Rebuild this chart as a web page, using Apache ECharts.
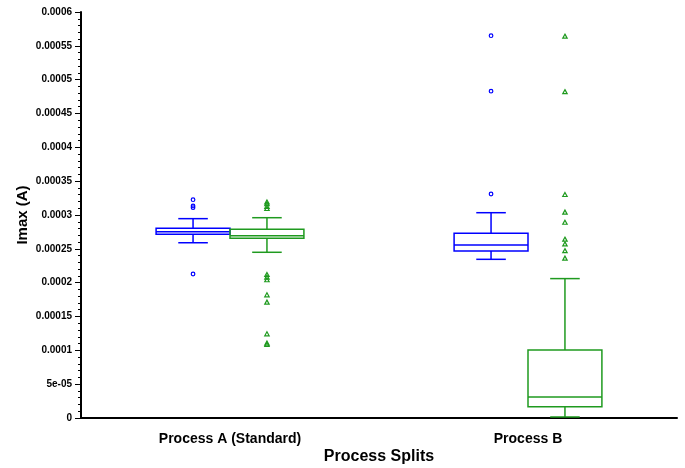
<!DOCTYPE html>
<html>
<head>
<meta charset="utf-8">
<script src="https://cdn.jsdelivr.net/npm/echarts@6/dist/echarts.min.js"></script>
<style>html,body{margin:0;padding:0;background:#fff;}#c{width:685px;height:468px;}</style>
</head>
<body>
<div id="c"></div>
<script>
// ---- data ----
const categories = ['Process A (Standard)', 'Process B'];
const yTickLabels = ['0', '5e-05', '0.0001', '0.00015', '0.0002', '0.00025', '0.0003',
                     '0.00035', '0.0004', '0.00045', '0.0005', '0.00055', '0.0006'];
// [min, Q1, median, Q3, max] per category
const blueStats = [
  [0.000259, 0.0002715, 0.0002754, 0.0002803, 0.0002946],
  [0.0002345, 0.0002468, 0.0002557, 0.000273, 0.0003034]
];
const greenStats = [
  [0.0002449, 0.0002656, 0.0002694, 0.0002788, 0.000296],
  [0.0000015, 0.0000167, 0.000031, 0.0001005, 0.000206]
];
const blueOutliersA = [0.0003226, 0.0003133, 0.0003108, 0.0002128];
const blueOutliersB = [0.000565, 0.000483, 0.000331];
const greenOutliersA = [0.000319, 0.0003163, 0.0003123, 0.0003093, 0.0002118, 0.000208,
                        0.000204, 0.0001818, 0.000171, 0.0001241, 0.0001104, 0.0001083];
const greenOutliersB = [0.000564, 0.000482, 0.00033, 0.000304, 0.000289, 0.000264,
                        0.000257, 0.000247, 0.000236];

const BLUE = '#0000ff';
const GREEN = '#1f9a1f';
const BOX_FRAC = 0.248;

function boxData(stats) {
  return stats.map((s, i) => [i].concat(s));
}
function outlierData(a, b) {
  return a.map(v => [0, v]).concat(b.map(v => [1, v]));
}

function makeBoxRender(color, side) {
  return function (params, api) {
    const band = api.size([1, 0])[0];
    const boxW = band * BOX_FRAC;
    const cat = api.value(0);
    const pMin = api.coord([cat, api.value(1)]);
    const pQ1 = api.coord([cat, api.value(2)]);
    const pMed = api.coord([cat, api.value(3)]);
    const pQ3 = api.coord([cat, api.value(4)]);
    const pMax = api.coord([cat, api.value(5)]);
    const cx = pMin[0] + side * boxW / 2;
    const x0 = cx - boxW / 2, x1 = cx + boxW / 2;
    const cap = boxW * 0.2;
    const st = { stroke: color, lineWidth: 1.5, fill: null };
    return {
      type: 'group',
      children: [
        { type: 'rect', shape: { x: x0, y: pQ3[1], width: boxW, height: pQ1[1] - pQ3[1] }, style: Object.assign({}, st, {fill: 'rgba(0,0,0,0)'}) },
        { type: 'line', shape: { x1: x0, y1: pMed[1], x2: x1, y2: pMed[1] }, style: st },
        { type: 'line', shape: { x1: cx, y1: pQ3[1], x2: cx, y2: pMax[1] }, style: st },
        { type: 'line', shape: { x1: cx, y1: pQ1[1], x2: cx, y2: pMin[1] }, style: st },
        { type: 'line', shape: { x1: cx - cap, y1: pMax[1], x2: cx + cap, y2: pMax[1] }, style: st },
        { type: 'line', shape: { x1: cx - cap, y1: pMin[1], x2: cx + cap, y2: pMin[1] }, style: st }
      ]
    };
  };
}

function makeOutlierRender(color, side, shape) {
  return function (params, api) {
    const band = api.size([1, 0])[0];
    const boxW = band * BOX_FRAC;
    const p = api.coord([api.value(0), api.value(1)]);
    const cx = p[0] + side * boxW / 2;
    const cy = p[1];
    const st = { stroke: color, lineWidth: 1.2, fill: 'rgba(0,0,0,0)' };
    if (shape === 'circle') {
      return { type: 'circle', shape: { cx: cx, cy: cy, r: 1.8 }, style: st };
    }
    return { type: 'polygon', shape: { points: [[cx, cy - 2.2], [cx + 2.2, cy + 1.8], [cx - 2.2, cy + 1.8]] }, style: st };
  };
}

const chart = echarts.init(document.getElementById('c'), null, { renderer: 'canvas' });
const FONT = 'Liberation Sans, Arial, sans-serif';
chart.setOption({
  animation: false,
  backgroundColor: '#fff',
  grid: { left: 81, right: 8, top: 12, bottom: 50, containLabel: false, outerBoundsMode: 'none' },
  xAxis: {
    type: 'category',
    data: categories,
    name: 'Process Splits',
    nameLocation: 'middle',
    nameGap: 31,
    nameMoveOverlap: false,
    nameTextStyle: { fontFamily: FONT, fontWeight: 'bold', fontSize: 16, color: '#000' },
    axisLine: { lineStyle: { color: '#000', width: 2 } },
    axisTick: { alignWithLabel: true, length: 5, lineStyle: { color: '#777', width: 1 } },
    axisLabel: { fontFamily: FONT, fontWeight: 'bold', fontSize: 14, color: '#000', margin: 14 },
    splitLine: { show: false }
  },
  yAxis: {
    type: 'value',
    min: 0,
    max: 0.0006,
    interval: 0.00005,
    name: 'Imax (A)',
    nameLocation: 'middle',
    nameRotate: 90,
    nameGap: 51,
    nameMoveOverlap: false,
    nameTextStyle: { fontFamily: FONT, fontWeight: 'bold', fontSize: 15, color: '#000' },
    axisLine: { show: true, lineStyle: { color: '#000', width: 2 } },
    axisTick: { show: true, length: 6, lineStyle: { color: '#000', width: 1 } },
    minorTick: { show: true, splitNumber: 5, length: 3, lineStyle: { color: '#000', width: 1 } },
    axisLabel: {
      fontFamily: FONT, fontWeight: 'bold', fontSize: 10, color: '#000', margin: 9,
      formatter: function (v) { return yTickLabels[Math.round(v / 0.00005)]; }
    },
    splitLine: { show: false },
    minorSplitLine: { show: false }
  },
  series: [
    { type: 'custom', name: 'blue', data: boxData(blueStats), encode: { x: 0, y: [1, 2, 3, 4, 5] }, renderItem: makeBoxRender(BLUE, -1), z: 3 },
    { type: 'custom', name: 'green', data: boxData(greenStats), encode: { x: 0, y: [1, 2, 3, 4, 5] }, renderItem: makeBoxRender(GREEN, 1), z: 3 },
    { type: 'custom', name: 'blueOut', data: outlierData(blueOutliersA, blueOutliersB), encode: { x: 0, y: 1 }, renderItem: makeOutlierRender(BLUE, -1, 'circle'), z: 4 },
    { type: 'custom', name: 'greenOut', data: outlierData(greenOutliersA, greenOutliersB), encode: { x: 0, y: 1 }, renderItem: makeOutlierRender(GREEN, 1, 'triangle'), z: 4 }
  ]
});
</script>
</body>
</html>
